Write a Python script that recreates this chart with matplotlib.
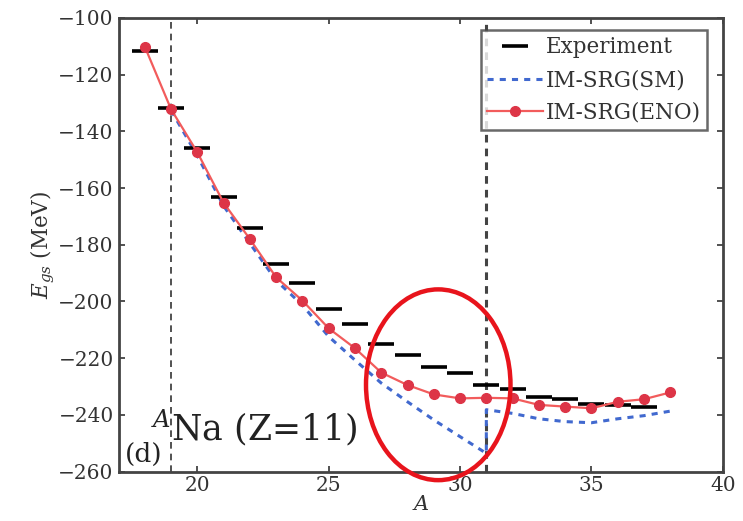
import matplotlib
matplotlib.use("Agg")
import matplotlib.pyplot as plt
from matplotlib.patches import Ellipse

plt.rcParams['font.family'] = ['DejaVu Serif']
plt.rcParams['mathtext.fontset'] = 'dejavuserif'

# Experiment (horizontal bars)
exp_A = [18, 19, 20, 21, 22, 23, 24, 25, 26, 27, 28, 29, 30, 31, 32, 33, 34, 35, 36, 37]
exp_E = [-111.6, -131.9, -145.8, -163.0, -174.2, -186.8, -193.6, -202.8, -208.0, -215.0,
         -218.9, -223.0, -225.1, -229.6, -231.0, -233.8, -234.4, -236.2, -236.5, -237.1]

# IM-SRG(SM) (jump at A=31)
sm_A = [19, 20, 21, 22, 23, 24, 25, 26, 27, 28, 29, 30, 31, 31, 32, 33, 34, 35, 36, 37, 38]
sm_E = [-132.6, -148.6, -166.3, -179.5, -192.6, -201.3, -212.4, -220.7, -228.8, -235.4,
        -241.8, -247.7, -253.6, -238.2, -239.5, -241.4, -242.4, -242.8, -241.4, -240.3, -238.7]

# IM-SRG(ENO)
eno_A = [18, 19, 20, 21, 22, 23, 24, 25, 26, 27, 28, 29, 30, 31, 32, 33, 34, 35, 36, 37, 38]
eno_E = [-110.1, -132.2, -147.4, -165.2, -178.0, -191.5, -199.7, -209.5, -216.5, -225.1,
         -229.5, -232.8, -234.2, -234.0, -234.2, -236.5, -237.1, -237.7, -235.4, -234.5, -232.1]

x_ticks = [20, 25, 30, 35, 40]
y_ticks = [-100, -120, -140, -160, -180, -200, -220, -240, -260]

fig = plt.figure(figsize=(7.43, 5.21), dpi=100)
ax = fig.add_axes([0.1595, 0.095, 0.8133, 0.8705])

ax.axvline(19, color='#333333', ls=(0, (4, 3)), lw=1.2, zorder=1)
ax.axvline(31, color='#444444', ls=(0, (2.5, 2)), lw=2.2, zorder=1)

ax.plot(exp_A, exp_E, ls='none', marker='_', markersize=19, markeredgewidth=2.6,
        color='black', label='Experiment', zorder=3)
ax.plot(sm_A, sm_E, ls=(0, (2, 2)), lw=2.2, color='#4169cf', label='IM-SRG(SM)', zorder=2)
ax.plot(eno_A, eno_E, '-', lw=1.6, color='#f25c5c', marker='o', markersize=7,
        markerfacecolor='#dd3547', markeredgecolor='#dd3547', label='IM-SRG(ENO)', zorder=4)

ax.set_xlim(17, 40)
ax.set_ylim(-260, -100)
ax.set_xticks(x_ticks)
ax.set_yticks(y_ticks)
ax.tick_params(direction='in', top=True, right=True, labelsize=14.5, length=4, width=1.2,
               colors='#333333', labelcolor='#333333')
for s in ax.spines.values():
    s.set_linewidth(2)
    s.set_color('#444444')

ax.set_xlabel('$A$', fontsize=15, color='#333333', labelpad=0)
ax.set_ylabel('$E_{gs}$ (MeV)', fontsize=15.5, color='#333333', labelpad=1)

ax.text(18.25, -249.2, '$^{A}$Na (Z=11)', fontsize=25, color='#222222', va='baseline')
ax.text(17.25, -253.8, '(d)', fontsize=19, color='#222222', va='center')

leg = ax.legend(loc='upper right', bbox_to_anchor=(0.974, 0.9735), borderaxespad=0,
                fontsize=15.5, frameon=True, fancybox=False,
                handlelength=2.6, handletextpad=0.1, borderpad=0.3, labelspacing=0.5)
leg.get_frame().set_edgecolor('#444444')
leg.get_frame().set_linewidth(1.8)
for t in leg.get_texts():
    t.set_color('#333333')

ell = Ellipse((29.17, -229.4), width=5.5, height=67.3, fill=False, edgecolor='#e8141c',
              lw=3.2, clip_on=False, zorder=6)
ax.add_patch(ell)

fig.savefig('out.png', dpi=100)
